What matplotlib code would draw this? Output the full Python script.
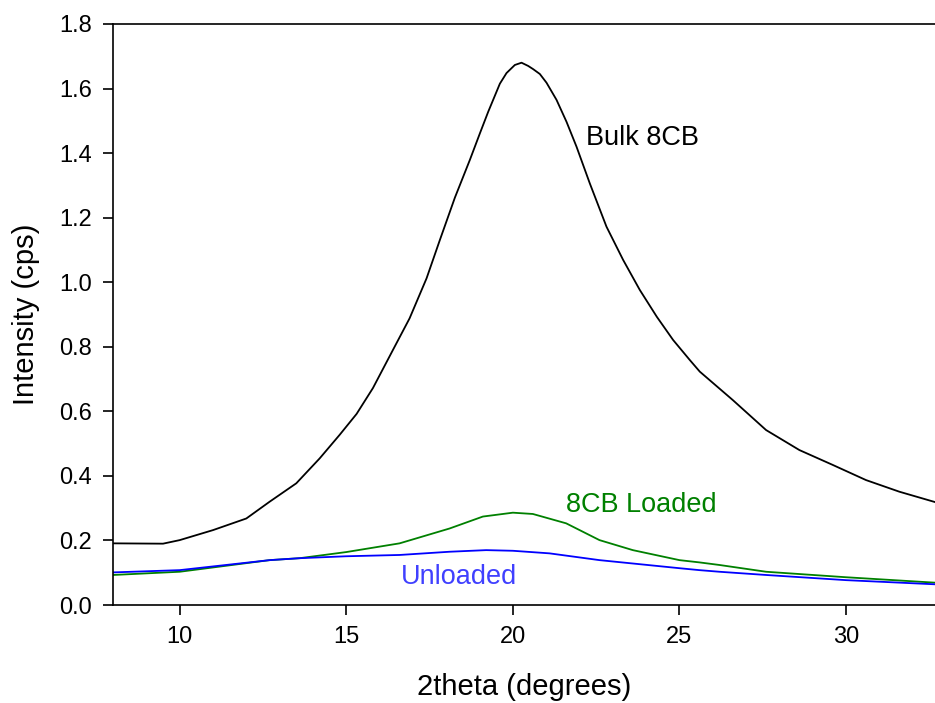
import matplotlib
matplotlib.use("Agg")
import matplotlib.pyplot as plt
from matplotlib.ticker import FormatStrFormatter

plt.rcParams["font.family"] = ["Liberation Sans", "DejaVu Sans"]

# Bulk 8CB (black)
bulk_x = [8.0, 9.5, 10.0, 11.0, 12.0, 12.7, 13.5, 14.2, 14.8, 15.31, 15.8,
          16.4, 16.9, 17.41, 17.81, 18.26, 18.71, 19.01, 19.26, 19.61, 19.81,
          20.06, 20.26, 20.46, 20.61, 20.81, 21.01, 21.31, 21.61, 21.91, 22.31,
          22.81, 23.31, 23.81, 24.32, 24.81, 25.31, 25.61, 26.6, 27.6, 28.6,
          29.6, 30.6, 31.6, 32.7]
bulk_y = [0.191, 0.19, 0.201, 0.232, 0.268, 0.32, 0.377, 0.454, 0.527, 0.592,
          0.672, 0.79, 0.888, 1.012, 1.131, 1.262, 1.379, 1.461, 1.528, 1.615,
          1.648, 1.673, 1.680, 1.670, 1.660, 1.645, 1.618, 1.565, 1.497, 1.42,
          1.306, 1.172, 1.069, 0.976, 0.893, 0.821, 0.759, 0.723, 0.635, 0.542,
          0.48, 0.434, 0.387, 0.351, 0.318]

# 8CB Loaded (green)
loaded_x = [8.0, 10.0, 12.7, 13.6, 15.0, 16.6, 18.1, 19.1, 20.0, 20.6, 21.6,
            22.6, 23.6, 25.0, 25.6, 26.2, 27.6, 30.0, 32.7]
loaded_y = [0.093, 0.103, 0.139, 0.145, 0.164, 0.191, 0.237, 0.274, 0.286,
            0.282, 0.253, 0.201, 0.170, 0.139, 0.132, 0.124, 0.103, 0.086, 0.069]

# Unloaded (blue)
unloaded_x = [8.0, 10.0, 12.7, 13.6, 15.0, 16.6, 18.1, 19.2, 20.0, 21.1, 22.6,
              25.0, 25.6, 26.2, 27.6, 30.0, 32.7]
unloaded_y = [0.101, 0.108, 0.139, 0.145, 0.151, 0.155, 0.165, 0.170, 0.168,
              0.160, 0.139, 0.114, 0.108, 0.103, 0.093, 0.077, 0.064]

x_ticks = [10, 15, 20, 25, 30]
y_ticks = [0.0, 0.2, 0.4, 0.6, 0.8, 1.0, 1.2, 1.4, 1.6, 1.8]

fig = plt.figure(figsize=(9.35, 7.03), dpi=100)
ax = fig.add_axes([0.1209, 0.1394, 0.8791, 0.8265])

ax.plot(bulk_x, bulk_y, color="black", lw=1.3)
ax.plot(loaded_x, loaded_y, color="#008000", lw=1.3)
ax.plot(unloaded_x, unloaded_y, color="#0000ff", lw=1.3)

ax.text(22.2, 1.447, "Bulk 8CB", fontsize=19.5, color="black", va="center")
ax.text(21.6, 0.31, "8CB Loaded", fontsize=19.5, color="#008000", va="center")
ax.text(16.63, 0.087, "Unloaded", fontsize=19.5, color="#4040ff", va="center")

ax.set_xlim(8, 32.67)
ax.set_ylim(0, 1.8)
ax.set_xticks(x_ticks)
ax.set_yticks(y_ticks)
ax.yaxis.set_major_formatter(FormatStrFormatter("%.1f"))
ax.tick_params(direction="out", length=7, width=1.2, labelsize=17, pad=8)
ax.spines["right"].set_visible(False)
for s in ("left", "bottom", "top"):
    ax.spines[s].set_linewidth(1.2)

ax.set_xlabel("2theta (degrees)", fontsize=21, labelpad=18)
ax.set_ylabel("Intensity (cps)", fontsize=21, labelpad=14)

fig.savefig("out.png", dpi=100)
